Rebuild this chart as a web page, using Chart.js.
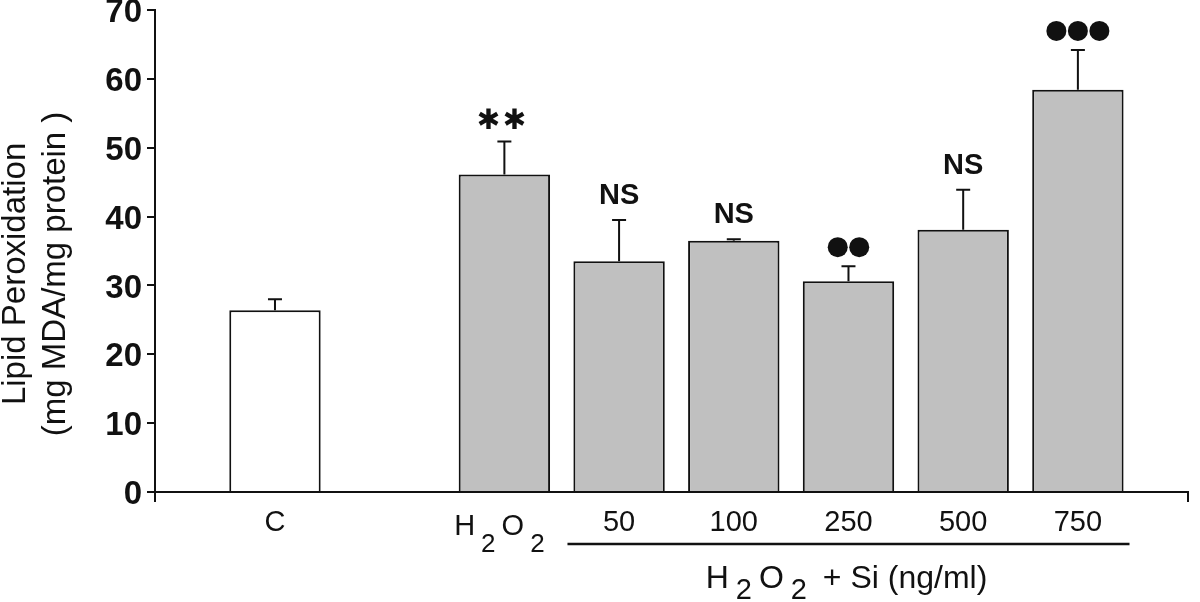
<!DOCTYPE html>
<html><head><meta charset="utf-8">
<script src="https://cdn.jsdelivr.net/npm/chart.js@4.4.1/dist/chart.umd.min.js"></script>
<style>html,body{margin:0;padding:0;background:#fff;} #wrap{width:1200px;height:602px;position:relative;}</style>
</head><body><div id="wrap"><canvas id="c"></canvas></div>
<script>
// ---- data ----
const categories = ['C', 'H2O2', '50', '100', '250', '500', '750'];
const lipidMean = [26.4, 46.1, 33.5, 36.5, 30.6, 38.1, 58.4];
const lipidSem = [1.6, 4.8, 6.0, 0.2, 2.2, 5.8, 5.8];
const significance = ['', '✱✱', 'NS', 'NS', '●●', 'NS', '●●●'];
const yTicks = [0, 10, 20, 30, 40, 50, 60, 70];
const yTitle = ['Lipid Peroxidation', '(mg MDA/mg protein )'];
const groupTitle = 'H2O2 + Si (ng/ml)';
const groupMembers = ['50', '100', '250', '500', '750'];

// control bar sits alone, a one-slot gap separates it from the H2O2 group
const slotOf = i => (i === 0 ? 1 : i + 2);
const FONT = "'Liberation Sans', Arial, sans-serif";
const INK = '#111';

// draw a chemical-style label where digits following letters are subscripts
function drawChem(ctx, text, cx, baseline, size, subSize, drop, gap) {
  const segs = [];
  const re = /([A-Za-z])(\d+)/g;
  let last = 0, m;
  while ((m = re.exec(text))) {
    const before = text.slice(last, m.index + 1);
    if (before) segs.push({t: before, sub: false});
    segs.push({t: m[2], sub: true});
    last = m.index + m[0].length;
  }
  if (last < text.length) segs.push({t: text.slice(last), sub: false});
  const widths = segs.map(s => { ctx.font = `${s.sub ? subSize : size}px ${FONT}`; return ctx.measureText(s.t).width; });
  const total = widths.reduce((a, b) => a + b, 0) + gap * (segs.length - 1);
  let xx = cx - total / 2;
  ctx.textAlign = 'left'; ctx.textBaseline = 'alphabetic';
  segs.forEach((s, k) => {
    ctx.font = `${s.sub ? subSize : size}px ${FONT}`;
    ctx.fillText(s.t, xx, baseline + (s.sub ? drop : 0));
    xx += widths[k] + gap;
  });
}

const annotPlugin = {
  id: 'annot',
  afterDraw(chart) {
    const {ctx, scales: {x, y}} = chart;
    ctx.save();
    ctx.strokeStyle = INK; ctx.fillStyle = INK; ctx.lineWidth = 2;
    categories.forEach((c, i) => {
      const px = x.getPixelForValue(slotOf(i));
      const yb = y.getPixelForValue(lipidMean[i]);
      const yt = y.getPixelForValue(lipidMean[i] + lipidSem[i]);
      ctx.beginPath();
      ctx.moveTo(px, yb); ctx.lineTo(px, yt);
      ctx.moveTo(px - 7, yt); ctx.lineTo(px + 7, yt);
      ctx.stroke();
      const mark = significance[i];
      if (!mark) return;
      if (mark[0] === '●') {
        const n = mark.length;
        for (let k = 0; k < n; k++) {
          ctx.beginPath();
          ctx.arc(px + (k - (n - 1) / 2) * 21.5, yt - 19, 10, 0, Math.PI * 2);
          ctx.fill();
        }
      } else if (mark === 'NS') {
        ctx.font = `bold 29px ${FONT}`;
        ctx.textAlign = 'center'; ctx.textBaseline = 'middle';
        ctx.fillText(mark, px, yt - 24);
      } else {
        ctx.font = `28px 'DejaVu Sans', sans-serif`;
        ctx.textAlign = 'center'; ctx.textBaseline = 'middle';
        const chars = Array.from(mark);
        chars.forEach((ch, k) => ctx.fillText(ch, px - 3 + (k - (chars.length - 1) / 2) * 26, yt - 20));
      }
    });
    // H2O2 tick label with real subscripts
    const hIdx = categories.indexOf('H2O2');
    ctx.fillStyle = INK;
    drawChem(ctx, categories[hIdx], x.getPixelForValue(slotOf(hIdx)) - 5, 535, 29, 26, 17, 6);
    // group bracket line and group title
    const first = x.getPixelForValue(slotOf(categories.indexOf(groupMembers[0])));
    const lastP = x.getPixelForValue(slotOf(categories.indexOf(groupMembers[groupMembers.length - 1])));
    const half = (x.getPixelForValue(1) - x.getPixelForValue(0)) * 0.45;
    ctx.lineWidth = 2.5;
    ctx.beginPath();
    ctx.moveTo(first - half, 544); ctx.lineTo(lastP + half, 544);
    ctx.stroke();
    drawChem(ctx, groupTitle, (first + lastP) / 2 - 2, 588, 32, 29, 11, 7);
    ctx.restore();
  }
};

const sp = '\u00a0';
new Chart(document.getElementById('c'), {
  type: 'bar',
  data: {
    datasets: [{
      data: categories.map((c, i) => ({x: slotOf(i), y: lipidMean[i]})),
      backgroundColor: categories.map((c, i) => (i === 0 ? '#ffffff' : '#c0c0c0')),
      borderColor: INK,
      borderWidth: 2,
      categoryPercentage: 1,
      barPercentage: 0.83
    }]
  },
  options: {
    responsive: true,
    maintainAspectRatio: false,
    animation: false,
    layout: {padding: {top: 10, right: 12, bottom: 0, left: 0}},
    plugins: {legend: {display: false}, tooltip: {enabled: false}},
    scales: {
      x: {
        type: 'linear',
        offset: false,
        min: -0.046,
        max: 8.96,
        afterBuildTicks: s => {
          s.ticks = [{value: s.min}].concat(categories.map((c, i) => ({value: slotOf(i)})), [{value: s.max}]);
        },
        afterFit: s => { s.height = 110; },
        border: {display: true, color: INK, width: 2},
        grid: {
          offset: false,
          drawOnChartArea: false, drawTicks: true, tickLength: 10, lineWidth: 2,
          color: ctx => (ctx.index === 0 || ctx.index === categories.length + 1) ? INK : 'rgba(0,0,0,0)'
        },
        ticks: {
          autoSkip: false, maxRotation: 0, padding: 4, color: INK,
          font: {family: FONT, size: 29},
          callback: (v) => {
            const i = categories.findIndex((c, k) => slotOf(k) === v);
            if (i < 0 || categories[i] === 'H2O2') return '';
            return categories[i];
          }
        }
      },
      y: {
        min: 0, max: 70,
        afterBuildTicks: s => { s.ticks = yTicks.map(v => ({value: v})); },
        afterFit: s => { s.width = 155; },
        border: {display: true, color: INK, width: 2},
        grid: {drawOnChartArea: false, drawTicks: true, tickLength: 8, lineWidth: 2, color: INK},
        ticks: {padding: 5, labelOffset: 3, color: INK, font: {family: FONT, size: 33, weight: 'bold', lineHeight: 0.3}},
        title: {
          display: true,
          text: [yTitle[0] + sp.repeat(5), yTitle[1] + sp.repeat(5)],
          color: INK,
          font: {family: FONT, size: 33, lineHeight: 1.21},
          padding: {top: -4, bottom: 0}
        }
      }
    }
  },
  plugins: [annotPlugin]
});
</script></body></html>
